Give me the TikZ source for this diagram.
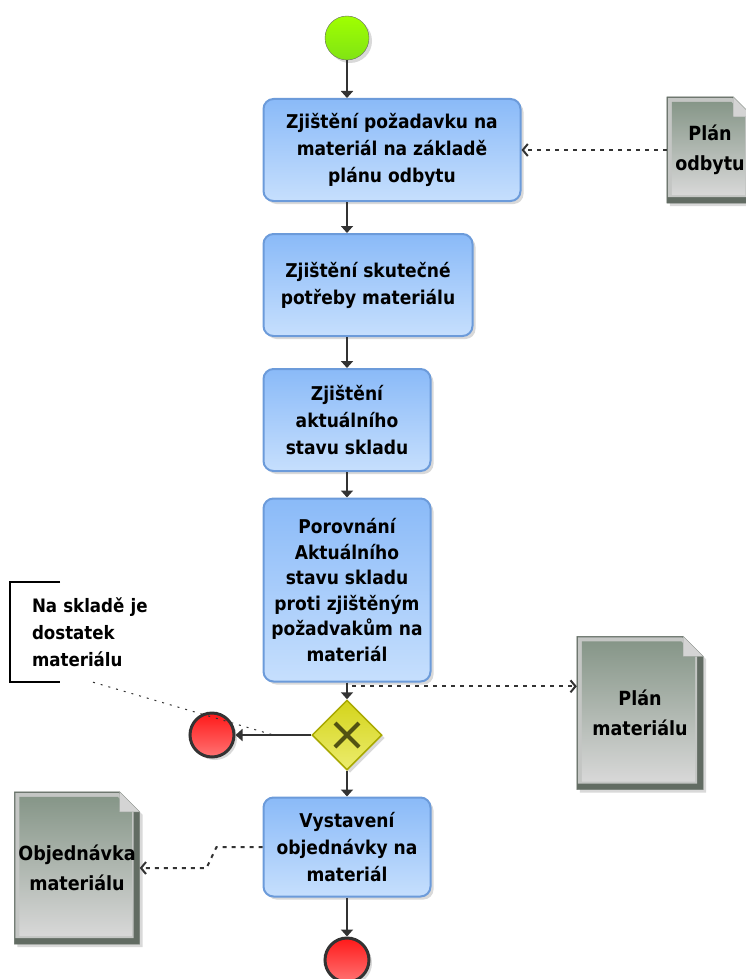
\documentclass[tikz,border=0pt]{standalone}
\usepackage{fontspec}
\setmainfont{DejaVu Sans Condensed}
\usetikzlibrary{calc,arrows.meta,shapes.geometric,shadows,backgrounds,positioning}

\definecolor{taskA}{RGB}{138,186,248}
\definecolor{taskB}{RGB}{198,223,253}
\definecolor{taskedge}{RGB}{108,155,218}
\definecolor{docA}{RGB}{134,150,136}
\definecolor{docB}{RGB}{216,216,216}
\definecolor{docL}{RGB}{196,198,196}
\definecolor{docedge}{RGB}{98,108,99}
\definecolor{foldc}{RGB}{212,212,212}
\definecolor{startA}{RGB}{160,255,0}
\definecolor{startB}{RGB}{128,228,20}
\definecolor{endA}{RGB}{255,25,25}
\definecolor{endB}{RGB}{255,115,115}
\definecolor{gateA}{RGB}{212,212,26}
\definecolor{gateB}{RGB}{236,236,110}
\definecolor{gateedge}{RGB}{168,168,0}
\definecolor{gatex}{RGB}{82,82,18}
\definecolor{flowc}{RGB}{51,51,51}

\begin{document}
\begin{tikzpicture} [x=1pt,y=-1pt,{task/.style={rectangle,rounded corners=10pt,draw=taskedge,line width=2pt,top color=taskA,bottom color=taskB,align=center,inner sep=2pt,font=\bfseries\fontsize{19}{27}\selectfont,drop shadow={opacity=0.3,shadow xshift=3pt,shadow yshift=-3pt}}},{start/.style={circle,minimum size=44pt,inner sep=0pt,draw=black!60,thin,top color=startA,bottom color=startB,drop shadow={opacity=0.3,shadow xshift=3pt,shadow yshift=-3pt}}},{stop/.style={circle,minimum size=44pt,inner sep=0pt,draw=flowc,line width=3pt,top color=endA,bottom color=endB,drop shadow={opacity=0.3,shadow xshift=3pt,shadow yshift=-3pt}}},{gate/.style={diamond,minimum width=70pt,minimum height=70pt,inner sep=0pt,draw=gateedge,line width=1.5pt,top color=gateA,bottom color=gateB,drop shadow={opacity=0.3,shadow xshift=3pt,shadow yshift=-3pt}}},{docbox/.style={rectangle,inner sep=0pt,align=center,font=\bfseries\fontsize{19.5}{30}\selectfont}},{flow/.style={draw=flowc,line width=2pt,-{Triangle[length=7pt,width=12pt]}}},{dataflow/.style={draw=flowc,line width=2pt,dash pattern=on 4pt off 5pt,-{Straight Barb[length=5pt,width=12pt]}}},{assoc/.style={draw=black!80,line width=1pt,dash pattern=on 2pt off 6pt}}]
		\useasboundingbox (0,0) rectangle (745,979);
		%%events
		\node at (347,38) [start] (1) {};
		\node at (212,735) [stop] (7) {};
		\node at (347,960) [stop] (9) {};
		%%tasks
		\node at (392,150) [task,minimum width=257pt,minimum height=102pt] (2) {Zjištění požadavku na\\materiál na základě\\plánu odbytu};
		\node at (368,285) [task,minimum width=209pt,minimum height=102pt] (3) {Zjištění skutečné\\potřeby materiálu};
		\node at (347,420) [task,minimum width=167pt,minimum height=102pt] (4) {Zjištění\\aktuálního\\stavu skladu};
		\node at (347,590) [task,minimum width=167pt,minimum height=183pt,font=\bfseries\fontsize{19}{25.5}\selectfont] (5) {Porovnání\\Aktuálního\\stavu skladu\\proti zjištěným\\požadvakům na\\materiál};
		\node at (347,847) [task,minimum width=167pt,minimum height=99pt] (8) {Vystavení\\objednávky na\\materiál};
		%%gateway
		\node at (347,735) [gate] (6) {};
		\draw [gatex,line width=4pt] ([shift={(-12pt,-12pt)}]6.center) -- ([shift={(12pt,12pt)}]6.center);
		\draw [gatex,line width=4pt] ([shift={(-12pt,12pt)}]6.center) -- ([shift={(12pt,-12pt)}]6.center);
		%%annotation
		\node at (93,632) [docbox,text width=122pt,minimum height=100pt,align=left,font=\bfseries\fontsize{18.5}{27}\selectfont] (10) {Na skladě je\\dostatek\\materiálu};
		\draw [line width=1.5pt] (60,582) -| (10,682) -- (60,682);
		\coordinate (11) at ($(7.east)!0.5!(6.west)$);
		%%documents
		\node at (710,150) [docbox,minimum width=86pt,minimum height=106pt] (12) {Plán\\odbytu};
		\node at (640,713) [docbox,minimum width=126pt,minimum height=153pt] (13) {Plán\\materiálu};
		\node at (77,868) [docbox,minimum width=125pt,minimum height=152pt] (14) {Objednávka\\materiálu};
		\begin{scope}[on background layer]
			\filldraw [fill=docedge,draw=docedge,drop shadow={opacity=0.3,shadow xshift=3pt,shadow yshift=-3pt}] (12.south west) -- (12.north west) -- ([xshift=-20pt]12.north east) -- ([yshift=-20pt]12.north east) -- (12.south east) -- cycle;
			\fill [docL] ([shift={(1pt,6pt)}]12.south west) -- ([shift={(1pt,-1pt)}]12.north west) -- ([shift={(-21pt,-1pt)}]12.north east) -- ([shift={(-6pt,-16pt)}]12.north east) -- ([shift={(-6pt,6pt)}]12.south east) -- cycle;
			\shade [top color=docA,bottom color=docB] ([shift={(5pt,8pt)}]12.south west) -- ([shift={(5pt,-5pt)}]12.north west) -- ([shift={(-22pt,-5pt)}]12.north east) -- ([shift={(-8pt,-19pt)}]12.north east) -- ([shift={(-8pt,8pt)}]12.south east) -- cycle;
			\filldraw [fill=foldc,draw=docedge!60] ([xshift=-20pt]12.north east) -- ([yshift=-20pt]12.north east) -- ([shift={(-20pt,-20pt)}]12.north east) -- cycle;
			\filldraw [fill=docedge,draw=docedge,drop shadow={opacity=0.3,shadow xshift=3pt,shadow yshift=-3pt}] (13.south west) -- (13.north west) -- ([xshift=-20pt]13.north east) -- ([yshift=-20pt]13.north east) -- (13.south east) -- cycle;
			\fill [docL] ([shift={(1pt,6pt)}]13.south west) -- ([shift={(1pt,-1pt)}]13.north west) -- ([shift={(-21pt,-1pt)}]13.north east) -- ([shift={(-6pt,-16pt)}]13.north east) -- ([shift={(-6pt,6pt)}]13.south east) -- cycle;
			\shade [top color=docA,bottom color=docB] ([shift={(5pt,8pt)}]13.south west) -- ([shift={(5pt,-5pt)}]13.north west) -- ([shift={(-22pt,-5pt)}]13.north east) -- ([shift={(-8pt,-19pt)}]13.north east) -- ([shift={(-8pt,8pt)}]13.south east) -- cycle;
			\filldraw [fill=foldc,draw=docedge!60] ([xshift=-20pt]13.north east) -- ([yshift=-20pt]13.north east) -- ([shift={(-20pt,-20pt)}]13.north east) -- cycle;
			\filldraw [fill=docedge,draw=docedge,drop shadow={opacity=0.3,shadow xshift=3pt,shadow yshift=-3pt}] (14.south west) -- (14.north west) -- ([xshift=-20pt]14.north east) -- ([yshift=-20pt]14.north east) -- (14.south east) -- cycle;
			\fill [docL] ([shift={(1pt,6pt)}]14.south west) -- ([shift={(1pt,-1pt)}]14.north west) -- ([shift={(-21pt,-1pt)}]14.north east) -- ([shift={(-6pt,-16pt)}]14.north east) -- ([shift={(-6pt,6pt)}]14.south east) -- cycle;
			\shade [top color=docA,bottom color=docB] ([shift={(5pt,8pt)}]14.south west) -- ([shift={(5pt,-5pt)}]14.north west) -- ([shift={(-22pt,-5pt)}]14.north east) -- ([shift={(-8pt,-19pt)}]14.north east) -- ([shift={(-8pt,8pt)}]14.south east) -- cycle;
			\filldraw [fill=foldc,draw=docedge!60] ([xshift=-20pt]14.north east) -- ([yshift=-20pt]14.north east) -- ([shift={(-20pt,-20pt)}]14.north east) -- cycle;
		\end{scope}
		%%sequence flows
		\draw [flow] (1) -- (1 |- 2.north);
		\draw [flow] (1 |- 2.south) -- (1 |- 3.north);
		\draw [flow] (1 |- 3.south) -- (4.north);
		\draw [flow] (4.south) -- (5.north);
		\draw [flow] (5.south) -- (6.north);
		\draw [flow] (6.west) -- (7.east);
		\draw [flow] (6.south) -- (8.north);
		\draw [flow] (8.south) -- (9.north);
		%%data
		\draw [dataflow] (12.west) -- (2.east);
		\draw [dataflow] (5.south) |- ([yshift=-50pt]13.north west);
		\draw [dataflow] (8.west) -- ++(-46,0) -- ++(-10,21) -- (14.east);
		\draw [assoc] (10.south) -- (11);
	\end{tikzpicture}
\end{document}
